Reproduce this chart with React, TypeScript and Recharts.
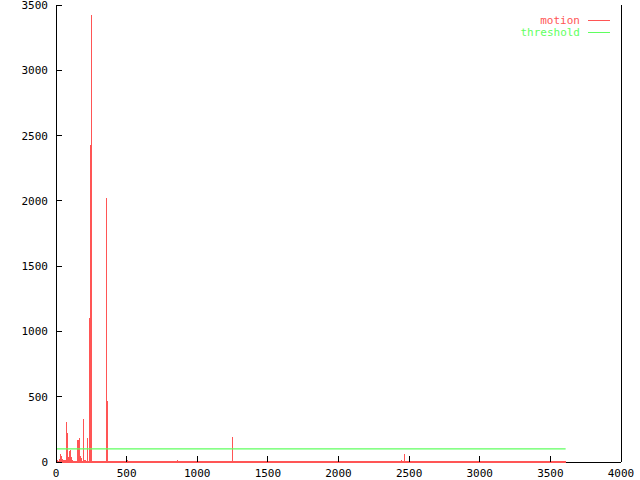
import { Bar, ComposedChart, Line, ReferenceLine, XAxis, YAxis } from 'recharts';

// seconds since start -> motion score (sparse: only readable samples)
const motionTimes = [
  2, 9, 16, 24, 30, 37, 44, 52, 58, 66,
  74, 81, 88, 94, 101, 107, 113, 119, 126, 134, 142,
  150, 156, 163, 170, 177, 184, 192, 198, 205, 211, 218,
  226, 234, 241, 250, 258, 270, 284, 298, 312, 326, 340,
  356, 363,
  378, 392, 405, 420, 436, 452, 470, 488, 505, 520, 538, 556, 570, 590, 612, 628, 650, 672, 690, 712,
  735, 752, 775, 798, 820, 845, 858, 872, 890, 905, 925, 944, 960, 982, 1000, 1018, 1040, 1058, 1075,
  1095, 1112, 1130, 1150, 1168, 1185, 1205, 1222, 1238, 1250, 1262, 1290, 1312, 1330, 1350, 1368,
  1385, 1405, 1430, 1452, 1470, 1488, 1505, 1522, 1545, 1568, 1590, 1608, 1625, 1648, 1668, 1688,
  1705, 1722, 1745, 1762, 1785, 1808, 1830, 1852, 1875, 1895, 1918, 1940, 1960, 1985, 2005, 2020,
  2038, 2055, 2075, 2095, 2112, 2130, 2150, 2175, 2198, 2220, 2240, 2262, 2285, 2305, 2325, 2345,
  2368, 2390, 2412, 2430, 2448, 2458, 2465, 2474, 2490, 2510, 2530, 2552, 2570, 2590, 2612, 2632,
  2650, 2672, 2690, 2712, 2735, 2755, 2775, 2798, 2818, 2840, 2860, 2880, 2902, 2925, 2945, 2965,
  2985, 3005, 3028, 3048, 3070, 3090, 3110, 3130, 3152, 3172, 3195, 3215, 3238, 3258, 3280, 3300,
  3322, 3345, 3365, 3388, 3410, 3430, 3452, 3472, 3495, 3515, 3538, 3560, 3580, 3600, 3608,
];
const motionValues = [
  18, 12, 10, 22, 61, 45, 22, 12, 18, 14,
  306, 224, 37, 84, 92, 40, 15, 12, 8, 10, 8,
  166, 168, 180, 45, 45, 30, 330, 37, 15, 14, 10,
  187, 1100, 2430, 3420, 8, 8, 6, 8, 8, 6, 8,
  2020, 470,
  8, 8, 6, 8, 10, 8, 8, 8, 15, 8, 6, 10, 8, 8, 8, 6, 8, 10, 8, 6,
  8, 8, 6, 8, 10, 8, 12, 8, 8, 6, 8, 6, 8, 8, 10, 8, 8, 6, 8,
  8, 10, 8, 8, 6, 10, 8, 8, 8, 194, 8, 8, 6, 8, 8, 10,
  8, 8, 6, 8, 8, 10, 8, 8, 6, 8, 8, 10, 8, 6, 8, 8,
  8, 10, 8, 6, 8, 8, 8, 10, 8, 6, 8, 8, 8, 6, 8, 10,
  8, 8, 10, 8, 6, 8, 8, 10, 8, 8, 6, 8, 8, 10, 8, 8,
  6, 8, 8, 10, 15, 8, 61, 8, 8, 6, 8, 10, 8, 8, 6, 8,
  8, 10, 8, 8, 6, 8, 8, 10, 8, 8, 6, 8, 8, 10, 8, 8,
  6, 8, 8, 10, 8, 8, 6, 8, 10, 8, 8, 6, 8, 8, 10, 8,
  8, 6, 8, 8, 10, 8, 8, 6, 8, 8, 10, 8, 8, 6, 0,
];

const thresholdTimes = [0, 3608];
const thresholdValues = [100, 100];

const xTicks = [0, 500, 1000, 1500, 2000, 2500, 3000, 3500, 4000];
const yTicks = [0, 500, 1000, 1500, 2000, 2500, 3000, 3500];

const MOTION = '#ff5555';
const THRESHOLD = '#5fff5f';
const FONT = '"DejaVu Sans Mono", "Liberation Mono", monospace';

const rows = (() => {
  const byTime = new Map<number, { t: number; motion?: number; threshold?: number }>();
  motionTimes.forEach((t, i) => byTime.set(t, { t, motion: motionValues[i] }));
  thresholdTimes.forEach((t, i) => {
    const row = byTime.get(t) ?? { t };
    row.threshold = thresholdValues[i];
    byTime.set(t, row);
  });
  return [...byTime.values()].sort((a, b) => a.t - b.t);
})();

// gnuplot-style impulse: a 1px vertical stroke snapped to the pixel grid
const Impulse = ({ x, y, width, height }: any) => {
  if (!height || height <= 0) return null;
  const px = Math.floor(x + width / 2);
  const top = Math.round(y);
  const bottom = Math.round(y + height);
  return <rect x={px} y={top} width={1} height={Math.max(1, bottom - top)} fill={MOTION} />;
};

const BottomTick = ({ x, y, payload }: any) => (
  <g>
    <line x1={x} x2={x} y1={y} y2={y - 6} stroke="#000" shapeRendering="crispEdges" />
    <text x={x} y={y + 15} textAnchor="middle" fontSize={11} fontFamily={FONT} fill="#000">
      {payload.value}
    </text>
  </g>
);

const TopTick = ({ x, y }: any) => (
  <line x1={x} x2={x} y1={y} y2={y + 6} stroke="#000" shapeRendering="crispEdges" />
);

const LeftTick = ({ x, y, payload }: any) => (
  <g>
    <line x1={x} x2={x + 6} y1={y} y2={y} stroke="#000" shapeRendering="crispEdges" />
    <text x={x - 8} y={y + 4} textAnchor="end" fontSize={11} fontFamily={FONT} fill="#000">
      {payload.value}
    </text>
  </g>
);

const RightTick = ({ x, y }: any) => (
  <line x1={x} x2={x - 6} y1={y} y2={y} stroke="#000" shapeRendering="crispEdges" />
);

function LegendBox() {
  const item = (label: string, color: string) => (
    <div style={{ display: 'flex', alignItems: 'center', justifyContent: 'flex-end', height: 11.5 }}>
      <span style={{ color, fontFamily: FONT, fontSize: 11 }}>{label}</span>
      <span style={{ display: 'inline-block', width: 22, height: 1, background: color, marginLeft: 8 }} />
    </div>
  );
  return (
    <div style={{ position: 'absolute', top: 15, right: 30, lineHeight: '11px' }}>
      {item('motion', MOTION)}
      {item('threshold', THRESHOLD)}
    </div>
  );
}

export default function App() {
  return (
    <div style={{ position: 'relative', width: 640, height: 480, background: '#fff' }}>
      <style>{'body{margin:0}'}</style>
      <ComposedChart width={640} height={480} data={rows} margin={{ top: 5, right: 0, bottom: 0, left: 0 }}>
        <XAxis
          dataKey="t"
          type="number"
          domain={[0, 4000]}
          ticks={xTicks}
          height={18}
          tickSize={0}
          tickMargin={0}
          tickLine={false}
          tick={<BottomTick />}
          axisLine={false}
          interval={0}
        />
        <XAxis
          xAxisId="top"
          orientation="top"
          dataKey="t"
          type="number"
          domain={[0, 4000]}
          ticks={xTicks}
          height={0}
          tickSize={0}
          tickMargin={0}
          tickLine={false}
          tick={<TopTick />}
          axisLine={{ stroke: '#000', shapeRendering: 'crispEdges' }}
          interval={0}
        />
        <YAxis
          type="number"
          domain={[0, 3500]}
          ticks={yTicks}
          width={56}
          tickSize={0}
          tickMargin={0}
          tickLine={false}
          tick={<LeftTick />}
          axisLine={{ stroke: '#000', shapeRendering: 'crispEdges' }}
          interval={0}
        />
        <YAxis
          yAxisId="right"
          orientation="right"
          type="number"
          domain={[0, 3500]}
          ticks={yTicks}
          width={19}
          tickSize={0}
          tickMargin={0}
          tickLine={false}
          tick={<RightTick />}
          axisLine={{ stroke: '#000', shapeRendering: 'crispEdges' }}
          interval={0}
        />
        <Bar dataKey="motion" fill={MOTION} barSize={1} shape={<Impulse />} isAnimationActive={false} />
        <Line
          dataKey="threshold"
          stroke={THRESHOLD}
          strokeWidth={1.2}
          dot={false}
          connectNulls
          isAnimationActive={false}
        />
        <ReferenceLine y={0} stroke="#000" strokeWidth={1} shapeRendering="crispEdges" />
        <ReferenceLine
          segment={[
            { x: motionTimes[0], y: 0 },
            { x: motionTimes[motionTimes.length - 1], y: 0 },
          ]}
          stroke={MOTION}
          strokeWidth={1.5}
          shapeRendering="crispEdges"
        />
      </ComposedChart>
      <LegendBox />
    </div>
  );
}
